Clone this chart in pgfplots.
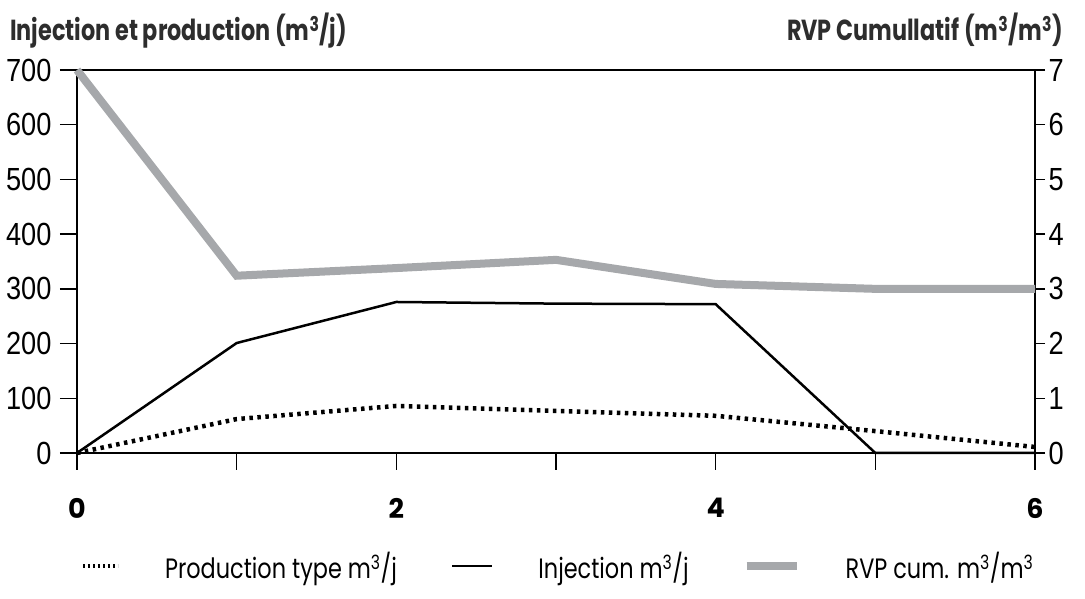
\documentclass[border=0pt]{standalone}
\usepackage{fontspec}
\usepackage{pgfplots}
\pgfplotsset{compat=1.18}
\setmainfont{Poppins}
\newfontfamily\tickfont{Liberation Sans}[FakeStretch=0.85]
\newfontfamily\legfont{Poppins}[FakeStretch=0.8]
\newfontfamily\titfont{Poppins}[FakeStretch=0.77]
\definecolor{rvpgray}{RGB}{166,168,171}
\definecolor{txtgray}{RGB}{45,45,45}
\pgfplotsset{
 legA/.style={legend image code/.code={\draw[##1] (0pt,0pt) -- (35pt,0pt);}},
 legB/.style={legend image code/.code={\draw[##1] (0pt,0pt) -- (40pt,0pt);}},
 legC/.style={legend image code/.code={\draw[##1] (0pt,0pt) -- (50pt,0pt);}},
}
\begin{document}
\begin{tikzpicture}[x=1pt,y=1pt]
\useasboundingbox (0,0) rectangle (1085,599);
\begin{axis}[at={(77pt,146pt)},anchor=south west, scale only axis, width=958pt, height=383pt,
 xmin=0,xmax=6,ymin=0,ymax=700, clip=false,
 xtick={0,...,6}, xticklabels={0,,2,,4,,6},
 ytick={0,100,...,700},
 xtick pos=bottom, ytick pos=left, tick align=outside,
 major tick length=17pt,
 every tick/.style={black,line width=1.5pt},
 axis line style={line width=2.5pt},
 x tick label style={font=\fontsize{27}{27}\selectfont\bfseries, yshift=-25pt},
 y tick label style={font=\fontsize{32}{32}\tickfont, xshift=-5pt},
 /pgf/number format/assume math mode=true,
 legend columns=3,
 legend style={at={(0.501,-0.295)}, anchor=center, draw=none, fill=none,
   font=\fontsize{28}{28}\legfont,
   nodes={inner sep=0pt},
   /tikz/every odd column/.append style={column sep=45pt},
   /tikz/every even column/.append style={column sep=54pt}},
]
\addplot[black, line width=4.5pt, dash pattern=on 3.5pt off 4.5pt, forget plot] coordinates {(0,0) (1,62) (2,86) (3,77) (4,68) (5,40) (6,11)};
\addplot[black, line width=2.5pt, forget plot] coordinates {(0,0) (1,201) (2,276) (3,273) (4,272) (5,0) (6,0)};
\addlegendimage{black, line width=4.5pt, dash pattern=on 2pt off 3pt, legA}
\addlegendentry{Production type m\textsuperscript{3}/j}
\addlegendimage{black, line width=2.5pt, legB}
\addlegendentry{Injection m\textsuperscript{3}/j}
\addlegendimage{rvpgray, line width=8pt, legC}
\addlegendentry{RVP cum. m\textsuperscript{3}/m\textsuperscript{3}}
\end{axis}
\begin{axis}[at={(77pt,146pt)},anchor=south west, scale only axis, width=958pt, height=383pt,
 xmin=0,xmax=6,ymin=0,ymax=7, clip=false,
 axis x line=none, axis y line*=right,
 ytick={0,...,7}, tick align=outside, ytick pos=right,
 major tick length=10pt,
 every tick/.style={black,line width=1.5pt},
 axis line style={line width=2.5pt,-},
 y tick label style={font=\fontsize{32}{32}\tickfont, xshift=0pt},
 /pgf/number format/assume math mode=true,
]
\addplot[rvpgray, line width=8pt] coordinates {(0,7) (1,3.24) (2,3.38) (3,3.53) (4,3.09) (5,3.0) (6,3.0)};
\end{axis}
\node[anchor=base west, font=\fontsize{29}{29}\titfont\bfseries, text=txtgray, inner sep=0pt] at (10,558) {Injection et production (m\textsuperscript{3}/j)};
\node[anchor=base east, font=\fontsize{29}{29}\titfont\bfseries, text=txtgray, inner sep=0pt] at (1063,558) {RVP Cumullatif (m\textsuperscript{3}/m\textsuperscript{3})};
\end{tikzpicture}
\end{document}
